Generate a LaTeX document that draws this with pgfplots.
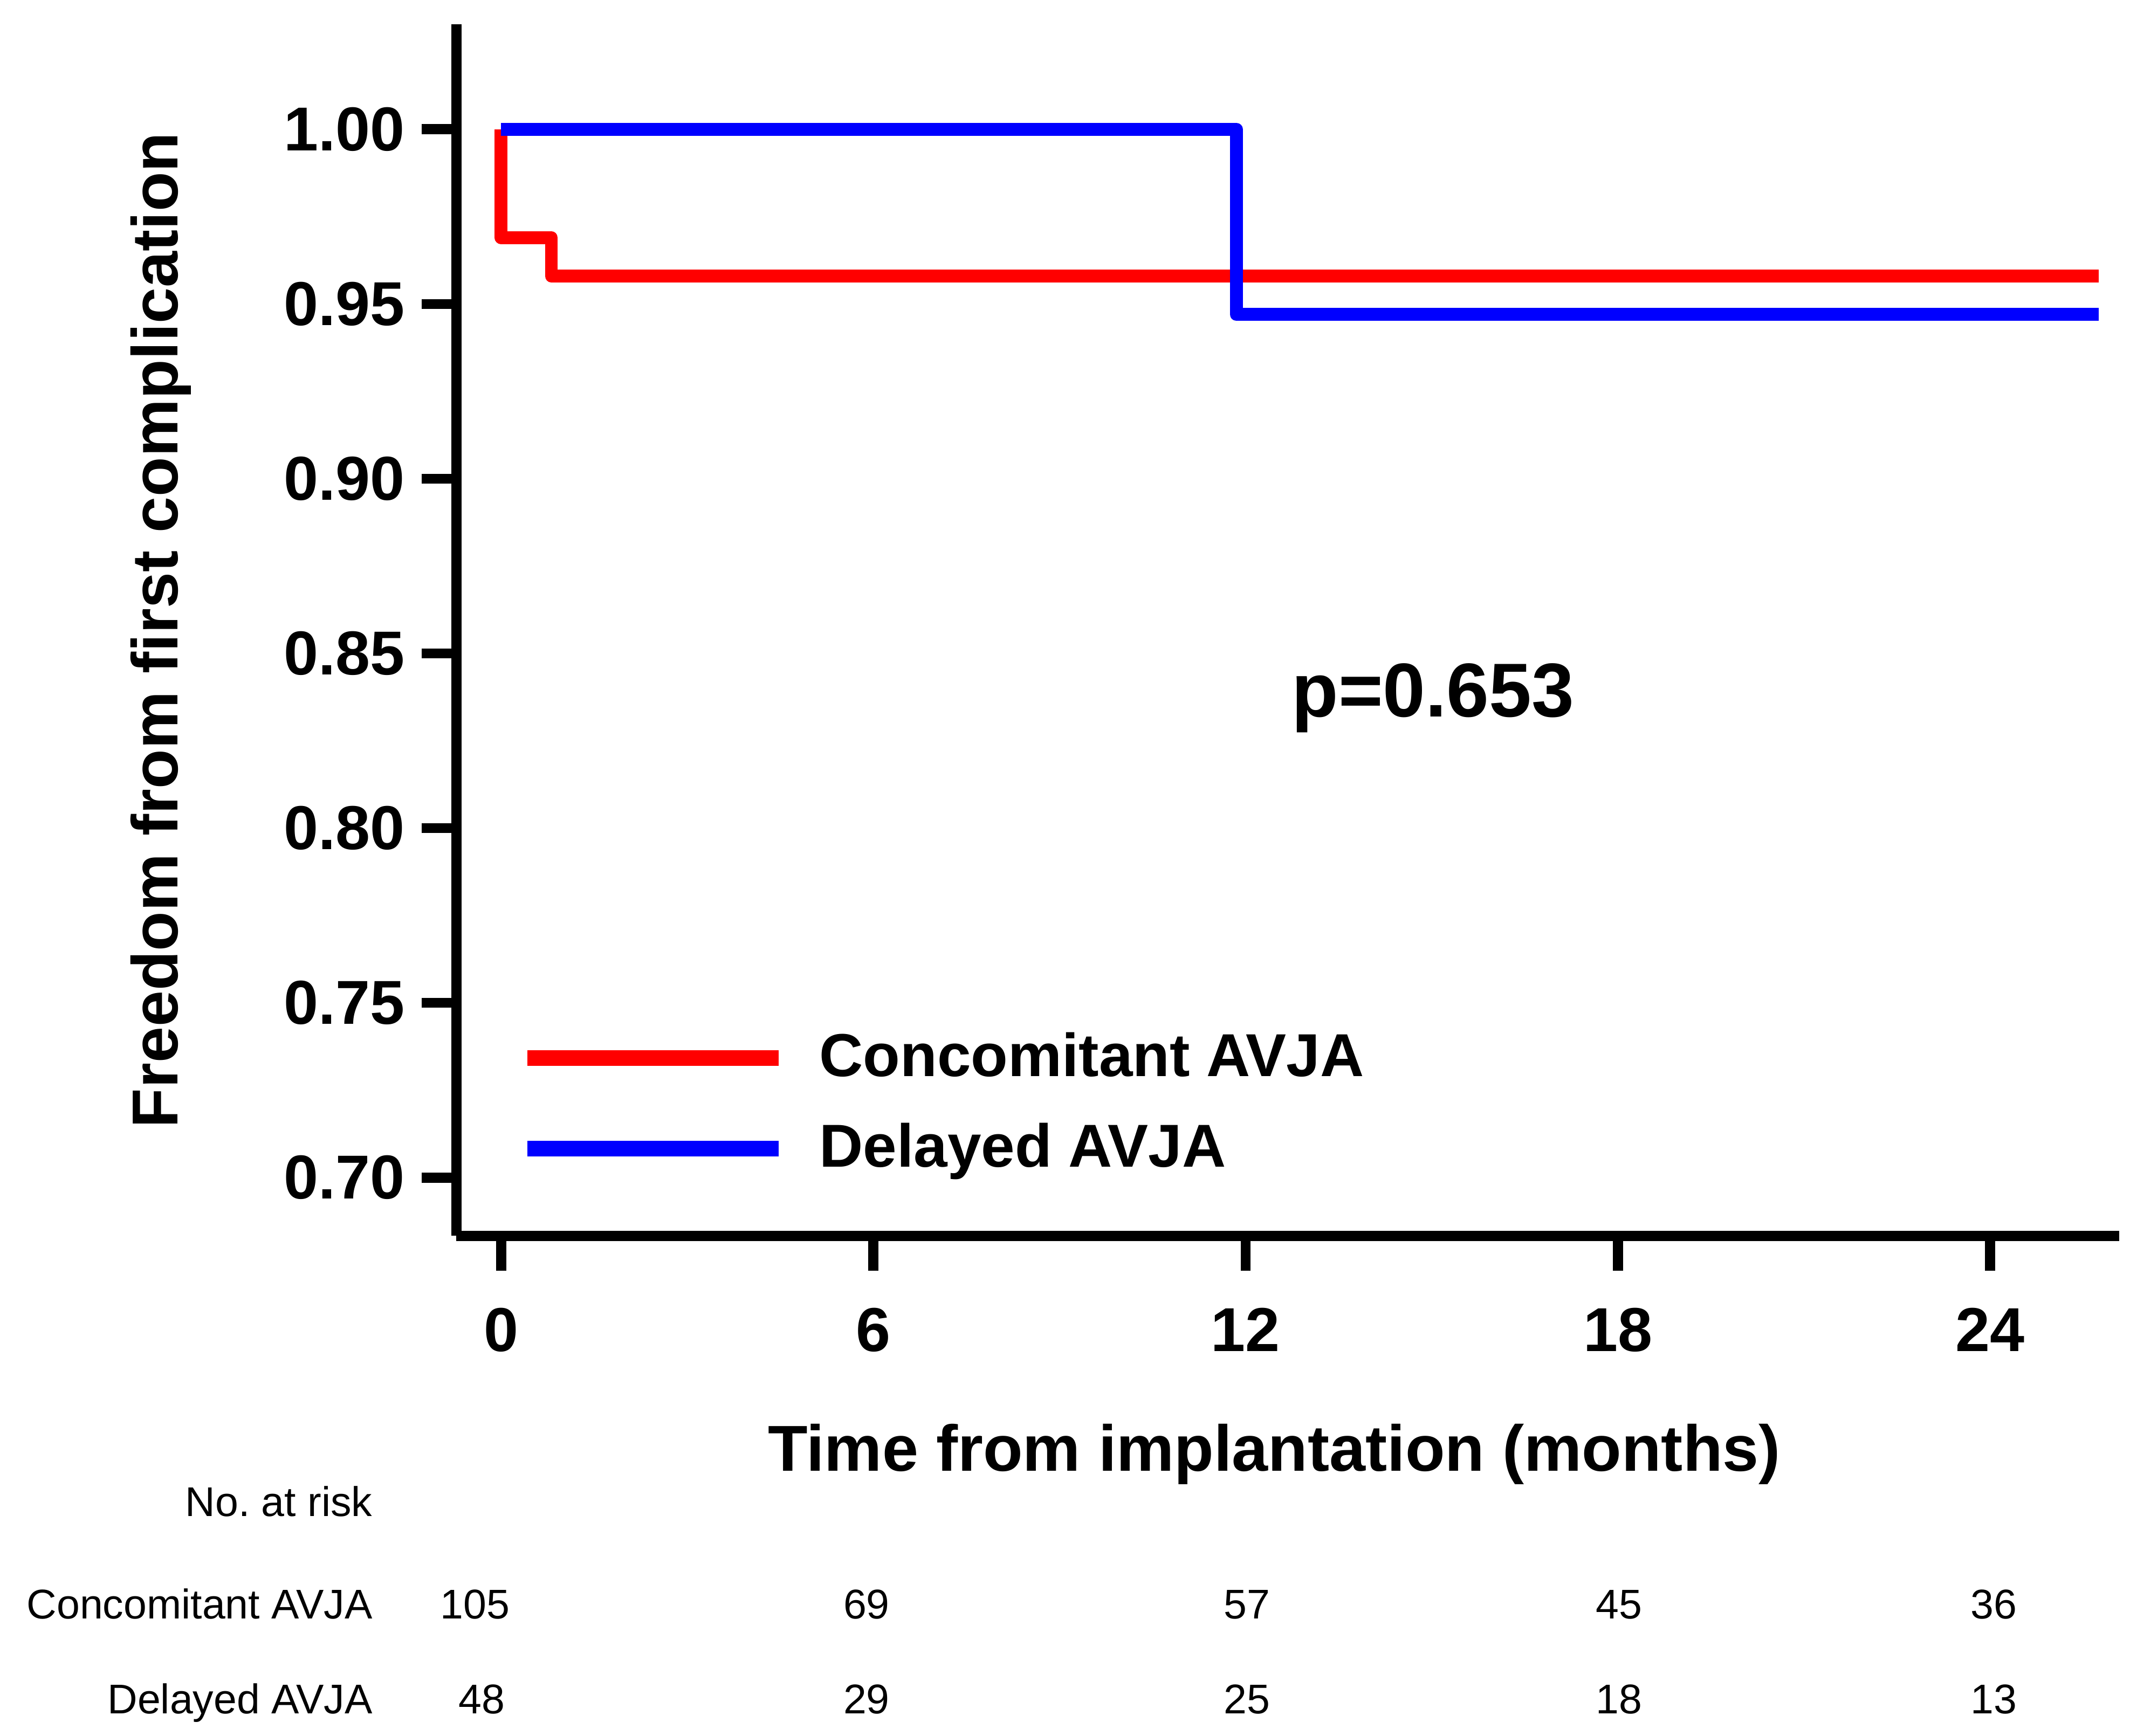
\documentclass[border=0pt]{standalone}
\usepackage{fontspec}
\setmainfont{Liberation Sans}
\usepackage{pgfplots}
\pgfplotsset{compat=1.18}
\usetikzlibrary{calc}

\definecolor{kmred}{RGB}{255,0,0}
\definecolor{kmblue}{RGB}{0,0,255}

\newcommand{\bigbf}{\fontsize{13}{15}\selectfont\bfseries}
\newcommand{\legbf}{\fontsize{12.7}{15}\selectfont\bfseries}
\newcommand{\risk}{\fontsize{8.7}{10}\selectfont}

\begin{document}
\begin{tikzpicture}
\begin{axis}[
  scale only axis,
  width=122.4mm, height=89.2mm,
  xmin=-0.72, xmax=26.08,
  ymin=0.6833, ymax=1.030,
  axis x line*=bottom, axis y line*=left,
  axis line style={line width=2.1pt},
  xtick={0,6,12,18,24},
  ytick={0.70,0.75,0.80,0.85,0.90,0.95,1.00},
  minor tick num=0,
  tick align=outside,
  major tick length=2.55mm,
  tick style={line width=2.1pt, black},
  /pgf/number format/assume math mode=true,
  yticklabel style={font=\bigbf, /pgf/number format/.cd, fixed, fixed zerofill, precision=2},
  xticklabel style={font=\bigbf, yshift=-1.5mm},
  xlabel={Time from implantation (months)},
  xlabel style={font=\fontsize{13.6}{16}\selectfont\bfseries, at={(rel axis cs:0.4918,0)}, anchor=base, yshift=-17.3mm},
  ylabel={Freedom from first complication},
  ylabel style={font=\fontsize{13.6}{16}\selectfont\bfseries, at={(rel axis cs:0,0.5)}, anchor=base, yshift=20.5mm},
  legend style={draw=none, fill=none, at={(axis cs:0.285,0.7212)}, anchor=west,
    inner sep=0pt, font=\legbf, row sep=1.5mm, cells={anchor=west},
    /tikz/every odd column/.append style={column sep=1.7mm}},
  legend image code/.code={\draw[#1, line width=3.3pt] (0mm,0mm) -- (18.5mm,0mm);},
  clip=false,
]
% Kaplan-Meier curves
\addplot[kmred, line width=2.7pt, const plot, line join=round] coordinates {
  (0,1.000) (0,0.969) (0.81,0.958) (25.75,0.958)
};
\addlegendentry{Concomitant AVJA}
\addplot[kmblue, line width=2.7pt, const plot, line join=round] coordinates {
  (0,1.000) (11.85,0.947) (25.75,0.947)
};
\addlegendentry{Delayed AVJA}

\node[anchor=base, font=\fontsize{16}{19}\selectfont\bfseries] at (axis cs:15.02,0.8318) {p=0.653};

% number at risk
\node[anchor=base east, inner sep=0pt, font=\risk] at (axis cs:-2.06,0.6030) {No.\ at risk};
\node[anchor=base east, inner sep=0pt, font=\risk] at (axis cs:-2.06,0.5738) {Concomitant AVJA};
\node[anchor=base east, inner sep=0pt, font=\risk] at (axis cs:-2.06,0.5466) {Delayed AVJA};

\node[anchor=base, font=\risk] at (axis cs:-0.42,0.5738) {105};
\node[anchor=base, font=\risk] at (axis cs:5.89,0.5738) {69};
\node[anchor=base, font=\risk] at (axis cs:12.02,0.5738) {57};
\node[anchor=base, font=\risk] at (axis cs:18.02,0.5738) {45};
\node[anchor=base, font=\risk] at (axis cs:24.06,0.5738) {36};

\node[anchor=base, font=\risk] at (axis cs:-0.31,0.5466) {48};
\node[anchor=base, font=\risk] at (axis cs:5.89,0.5466) {29};
\node[anchor=base, font=\risk] at (axis cs:12.02,0.5466) {25};
\node[anchor=base, font=\risk] at (axis cs:18.02,0.5466) {18};
\node[anchor=base, font=\risk] at (axis cs:24.06,0.5466) {13};
\end{axis}
\pgfresetboundingbox
\path[use as bounding box] ($(current axis.south west)+(-33.6mm,-36.8mm)$) rectangle ($(current axis.north east)+(0.8mm,1.8mm)$);
\end{tikzpicture}
\end{document}
